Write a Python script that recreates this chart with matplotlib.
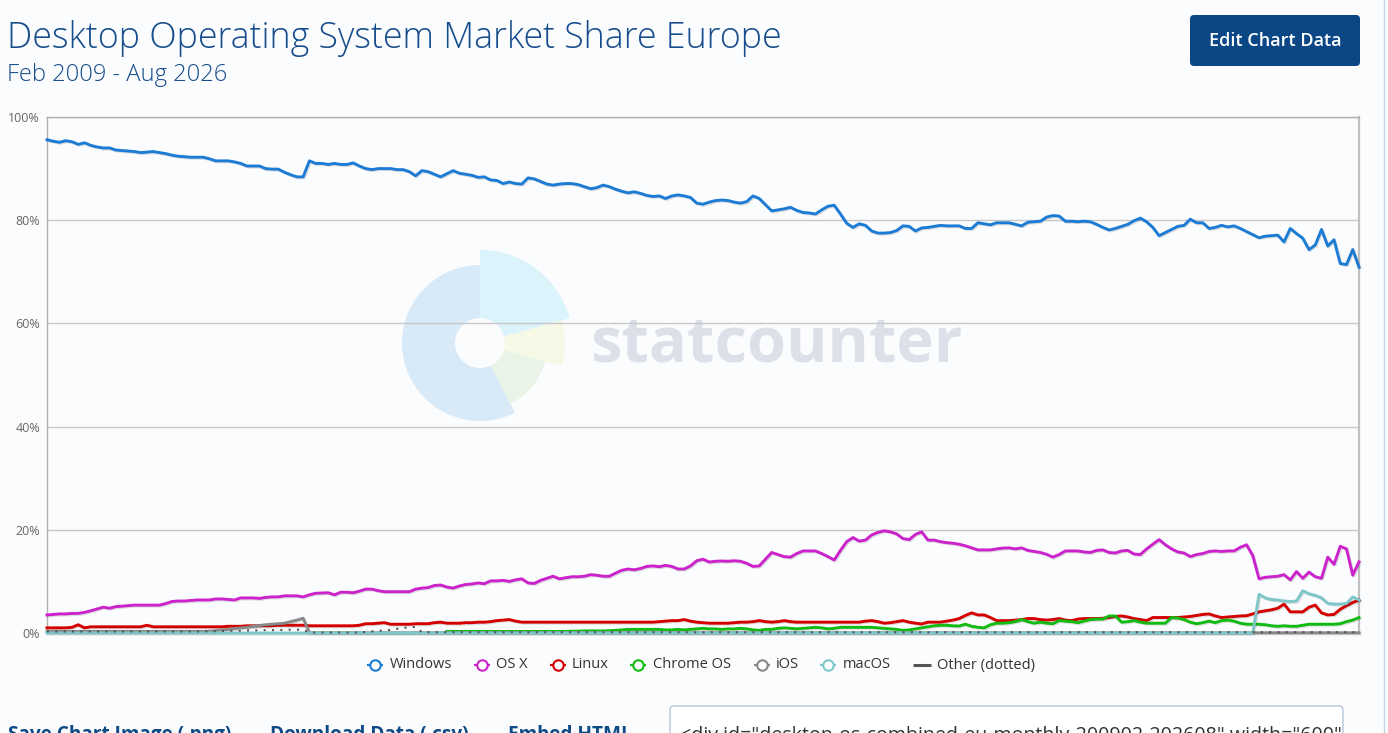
import numpy as np
import matplotlib
matplotlib.use("Agg")
import matplotlib.pyplot as plt
from matplotlib.patches import Wedge, FancyBboxPatch
import matplotlib.patheffects as pe

plt.rcParams['font.family'] = ['Open Sans', 'DejaVu Sans']

# ---------------- data (monthly, Feb 2009 .. Aug 2026) ----------------
title = "Desktop Operating System Market Share Europe"
subtitle = "Feb 2009 - Aug 2026"
series_names = ["Windows", "OS X", "Linux", "Chrome OS", "iOS", "macOS", "Other (dotted)"]
y_ticks = [0, 20, 40, 60, 80, 100]
y_tick_labels = ["0%", "20%", "40%", "60%", "80%", "100%"]

windows = [
    95.6, 95.3, 95.1, 95.4, 95.2, 94.7, 95.0, 94.5, 94.2, 94.0,
    94.0, 93.6, 93.5, 93.4, 93.3, 93.1, 93.2, 93.3, 93.1, 92.9,
    92.6, 92.4, 92.3, 92.2, 92.2, 92.2, 91.9, 91.5, 91.5, 91.5,
    91.3, 91.0, 90.5, 90.5, 90.5, 90.0, 89.9, 89.9, 89.3, 88.8,
    88.4, 88.4, 91.5, 91.0, 91.0, 90.8, 91.0, 90.8, 90.8, 91.1,
    90.5, 90.0, 89.8, 90.0, 90.0, 90.0, 89.8, 89.8, 89.4, 88.6,
    89.6, 89.4, 88.9, 88.4, 89.0, 89.6, 89.1, 88.9, 88.7, 88.3,
    88.4, 87.8, 87.7, 87.1, 87.4, 87.1, 87.0, 88.2, 88.0, 87.5,
    87.0, 86.8, 87.0, 87.1, 87.1, 86.9, 86.5, 86.1, 86.3, 86.8,
    86.5, 86.0, 85.6, 85.3, 85.5, 85.2, 84.8, 84.6, 84.7, 84.2,
    84.7, 84.9, 84.7, 84.4, 83.3, 83.1, 83.5, 83.8, 83.9, 83.8,
    83.5, 83.3, 83.6, 84.7, 84.2, 83.0, 81.8, 82.0, 82.2, 82.5,
    81.9, 81.5, 81.4, 81.2, 82.0, 82.7, 82.9, 81.2, 79.4, 78.6,
    79.3, 79.0, 77.9, 77.5, 77.5, 77.6, 78.0, 78.9, 78.8, 77.9,
    78.5, 78.6, 78.8, 79.0, 78.9, 78.9, 78.9, 78.4, 78.4, 79.5,
    79.3, 79.1, 79.5, 79.5, 79.5, 79.2, 78.9, 79.6, 79.7, 79.8,
    80.6, 80.9, 80.8, 79.8, 79.8, 79.7, 79.8, 79.7, 79.2, 78.6,
    78.1, 78.4, 78.8, 79.2, 79.9, 80.4, 79.7, 78.6, 77.0, 77.6,
    78.2, 78.8, 79.0, 80.2, 79.5, 79.5, 78.4, 78.6, 79.0, 78.7,
    78.9, 78.4, 77.8, 77.2, 76.6, 76.9, 77.0, 77.1, 75.8, 78.4,
    77.4, 76.5, 74.3, 75.2, 78.2, 75.0, 76.2, 71.6, 71.4, 74.3, 70.9,
]

osx = [
    3.5, 3.6, 3.7, 3.7, 3.8, 3.8, 4.0, 4.3, 4.65, 5.0,
    4.8, 5.1, 5.2, 5.3, 5.4, 5.4, 5.4, 5.4, 5.4, 5.7,
    6.1, 6.2, 6.2, 6.3, 6.4, 6.4, 6.4, 6.6, 6.6, 6.5,
    6.4, 6.8, 6.8, 6.8, 6.7, 6.9, 7.0, 7.0, 7.2, 7.2,
    7.2, 7.0, 7.4, 7.7, 7.75, 7.8, 7.4, 7.9, 7.9, 7.8,
    8.1, 8.5, 8.5, 8.2, 8.0, 8.0, 8.0, 8.0, 8.0, 8.5,
    8.7, 8.8, 9.2, 9.3, 8.9, 8.7, 9.1, 9.4, 9.5, 9.7,
    9.55, 10.1, 10.1, 10.2, 10.0, 10.3, 10.5, 9.7, 9.6, 10.2,
    10.6, 11.0, 10.5, 10.7, 10.9, 10.9, 11.0, 11.3, 11.2, 11.0,
    11.0, 11.6, 12.15, 12.4, 12.25, 12.5, 12.9, 13.0, 12.85, 13.1,
    12.9, 12.4, 12.4, 13.0, 14.0, 14.3, 13.75, 13.9, 13.95, 13.9,
    14.0, 13.9, 13.5, 12.9, 13.0, 14.3, 15.6, 15.2, 14.8, 14.7,
    15.4, 15.9, 15.9, 15.9, 15.4, 14.8, 14.15, 16.0, 17.7, 18.5,
    17.8, 18.0, 19.0, 19.5, 19.8, 19.6, 19.2, 18.3, 18.1, 19.1,
    19.6, 18.0, 18.0, 17.7, 17.5, 17.4, 17.2, 16.9, 16.5, 16.1,
    16.1, 16.1, 16.3, 16.45, 16.5, 16.3, 16.5, 16.0, 15.8, 15.6,
    15.25, 14.7, 15.2, 15.9, 15.9, 15.9, 15.7, 15.6, 16.0, 16.1,
    15.6, 15.5, 15.9, 16.0, 15.3, 15.2, 16.3, 17.2, 18.1, 17.1,
    16.3, 15.7, 15.5, 14.8, 15.2, 15.4, 15.8, 15.9, 15.8, 15.9,
    15.9, 16.6, 17.1, 15.0, 10.5, 10.8, 10.9, 11.0, 11.3, 10.3,
    11.9, 10.6, 11.8, 10.9, 10.6, 14.7, 13.3, 16.8, 16.3, 11.2, 13.8,
]

linux = [
    1.0, 1.0, 1.0, 1.0, 1.1, 1.6, 1.0, 1.2, 1.2, 1.2,
    1.2, 1.2, 1.2, 1.2, 1.2, 1.2, 1.5, 1.2, 1.2, 1.2,
    1.2, 1.2, 1.2, 1.2, 1.2, 1.2, 1.2, 1.2, 1.2, 1.3,
    1.3, 1.3, 1.4, 1.4, 1.4, 1.4, 1.4, 1.5, 1.5, 1.5,
    1.5, 1.5, 1.4, 1.4, 1.4, 1.4, 1.4, 1.4, 1.4, 1.4,
    1.5, 1.8, 1.8, 1.9, 2.0, 1.7, 1.7, 1.7, 1.7, 1.8,
    1.8, 1.8, 2.0, 2.1, 1.9, 1.9, 1.9, 2.0, 2.0, 2.1,
    2.1, 2.2, 2.4, 2.5, 2.6, 2.3, 2.1, 2.1, 2.1, 2.1,
    2.1, 2.1, 2.1, 2.1, 2.1, 2.1, 2.1, 2.1, 2.1, 2.1,
    2.1, 2.1, 2.1, 2.1, 2.1, 2.1, 2.1, 2.1, 2.2, 2.3,
    2.4, 2.4, 2.6, 2.3, 2.1, 2.0, 1.9, 1.9, 1.9, 1.9,
    2.0, 2.1, 2.1, 2.2, 2.4, 2.2, 2.1, 2.2, 2.4, 2.2,
    2.1, 2.1, 2.1, 2.1, 2.1, 2.1, 2.1, 2.1, 2.1, 2.1,
    2.1, 2.3, 2.4, 2.2, 1.9, 2.0, 2.2, 2.4, 2.1, 1.9,
    1.75, 2.1, 2.1, 2.1, 2.3, 2.5, 2.8, 3.4, 3.9, 3.5,
    3.5, 3.0, 2.4, 2.4, 2.4, 2.5, 2.6, 2.8, 2.8, 2.6,
    2.5, 2.6, 2.8, 2.5, 2.4, 2.7, 2.8, 2.8, 2.8, 2.85,
    3.0, 3.2, 3.3, 3.1, 2.8, 2.6, 2.4, 3.0, 3.0, 3.0,
    3.0, 3.0, 3.1, 3.2, 3.4, 3.6, 3.7, 3.3, 3.0, 3.1,
    3.2, 3.3, 3.35, 3.7, 4.1, 4.3, 4.5, 4.8, 5.6, 4.1,
    4.1, 4.1, 5.0, 5.4, 3.9, 3.5, 3.6, 4.6, 5.3, 5.9, 6.4,
]

chromeos = [np.nan] * 64 + [
    0.3, 0.3, 0.3, 0.3, 0.3, 0.3,
    0.3, 0.3, 0.3, 0.3, 0.3, 0.3, 0.3, 0.3, 0.3, 0.3,
    0.3, 0.3, 0.3, 0.3, 0.35, 0.35, 0.4, 0.4, 0.4, 0.4,
    0.45, 0.5, 0.6, 0.7, 0.7, 0.7, 0.7, 0.7, 0.7, 0.6,
    0.6, 0.7, 0.6, 0.7, 0.8, 0.9, 0.8, 0.8, 0.7, 0.8,
    0.8, 0.9, 0.8, 0.6, 0.5, 0.7, 0.7, 0.9, 1.0, 0.9,
    0.8, 0.9, 1.0, 1.1, 1.0, 0.8, 0.9, 1.1, 1.1, 1.1,
    1.1, 1.1, 1.1, 1.0, 0.9, 0.8, 0.7, 0.5, 0.6, 0.8,
    1.0, 1.2, 1.4, 1.5, 1.5, 1.4, 1.35, 1.7, 1.3, 1.1,
    1.0, 1.6, 1.9, 1.9, 2.0, 2.2, 2.6, 2.2, 1.9, 2.1,
    1.9, 1.8, 2.4, 2.3, 2.2, 2.0, 2.3, 2.6, 2.7, 2.7,
    3.3, 3.3, 2.1, 2.2, 2.4, 2.1, 1.9, 1.9, 1.9, 1.9,
    3.0, 2.9, 2.6, 2.1, 1.8, 2.0, 2.3, 2.0, 2.4, 2.5,
    2.3, 1.9, 1.7, 1.7, 1.7, 1.6, 1.4, 1.3, 1.4, 1.3,
    1.3, 1.5, 1.7, 1.7, 1.7, 1.7, 1.7, 1.8, 2.2, 2.5, 3.0,
]

ios = [0.3] * 26 + [
    0.35, 0.45, 0.6, 0.7, 0.85, 1.0, 1.1, 1.3, 1.45, 1.6,
    1.7, 1.8, 1.9, 2.2, 2.5, 2.85,
] + [0.05] * 169

macos = [0.0] * 194 + [
    7.5, 6.8, 6.5, 6.4, 6.2, 6.1, 6.2, 8.2, 7.6, 7.3,
    6.8, 5.75, 5.6, 5.6, 5.7, 7.0, 6.4,
]

other = [0.3] * 26 + [
    0.35, 0.35, 0.4, 0.4, 0.45, 0.45, 0.5, 0.5, 0.5, 0.55,
    0.55, 0.6, 0.6, 0.65, 0.65, 0.6,
] + [0.1] * 9 + [0.2, 0.3, 0.4, 0.5, 0.6, 0.8, 1.0, 1.1, 1.2] + [0.15] * 151

series = [windows, osx, linux, chromeos, ios, macos, other]
colors = ["#1c7cd5", "#cc22cc", "#d40000", "#11bb11", "#888888", "#7fc6c9", "#555555"]

# ---------------- figure ----------------
W, H = 1388, 733
fig = plt.figure(figsize=(W / 100, H / 100), dpi=100)
fig.patch.set_facecolor("#fbfcfd")

# background (pixel coordinate) layer
bg = fig.add_axes([0, 0, 1, 1], zorder=0)
bg.set_xlim(0, W)
bg.set_ylim(H, 0)
bg.axis("off")

# statcounter watermark logo (screen angles mirrored because y inverted)
cx, cy = 480, 343
bg.add_patch(Wedge((cx, cy), 78, 63.4, 270, width=53, color="#d8e9f7", lw=0))
bg.add_patch(Wedge((cx, cy), 93, -90, -15.4, width=68, color="#dbf3fb", lw=0))
bg.add_patch(Wedge((cx, cy), 85, -15.4, 16, width=60, color="#f6f9e6", lw=0))
bg.add_patch(Wedge((cx, cy), 68, 16, 63.4, width=43, color="#e9f4e7", lw=0))

def fit_text(t, target_w):
    fig.canvas.draw()
    bb = t.get_window_extent()
    t.set_fontsize(t.get_fontsize() * target_w / bb.width)

wm = bg.text(590, 362, "statcounter", fontsize=46, weight="bold", color="#dbe0e9",
             ha="left", va="baseline")
fit_text(wm, 372)

# title
tt = bg.text(7, 48, title, fontsize=26, weight="light", color="#174d8c",
             ha="left", va="baseline")
fit_text(tt, 778)
st = bg.text(7, 81, subtitle, fontsize=16, weight="light", color="#174d8c",
             ha="left", va="baseline")
fit_text(st, 221)

# button
bg.add_patch(FancyBboxPatch((1190, 15), 170, 51, boxstyle="round,pad=0,rounding_size=4",
                            fc="#0c4785", ec="none"))
bg.text(1275, 41, "Edit Chart Data", fontsize=13, weight="semibold", color="white",
        ha="center", va="center")

# bottom links (cut off by figure edge, as in reference)
link_c = "#0e4a86"
bg.text(8, 740, "Save Chart Image (.png)", fontsize=13.7, weight="bold", color=link_c,
        ha="left", va="baseline")
bg.text(270, 740, "Download Data (.csv)", fontsize=13.7, weight="bold", color=link_c,
        ha="left", va="baseline")
bg.text(508, 740, "Embed HTML", fontsize=13.7, weight="bold", color=link_c,
        ha="left", va="baseline")
bg.add_patch(FancyBboxPatch((670, 706), 673, 60, boxstyle="round,pad=0,rounding_size=4",
                            fc="white", ec="#b3c6dd", lw=1))
bg.text(680, 741, '<div id="desktop-os-combined-eu-monthly-200902-202608" width="600"',
        fontsize=14.1, color="#333333", ha="left", va="baseline", clip_on=True)
bg.plot([1384, 1384], [0, H], color="#c3d3e8", lw=1)

# legend (manual, pixel coordinates)
leg_y = 665
leg_items = [(375, 390), (482, 496), (558, 572), (638, 653), (762, 776), (828, 843)]
for (mx, tx), name, c in zip(leg_items, series_names[:6], colors[:6]):
    bg.plot([mx - 8, mx + 8], [leg_y, leg_y], color=c, lw=1.6, solid_capstyle="butt")
    bg.plot([mx], [leg_y], "o", ms=7.5, mfc="white", mec=c, mew=1.5)
    bg.text(tx, leg_y, name, fontsize=10.5, color="#333333", ha="left", va="center")
bg.plot([913, 931], [leg_y, leg_y], color="#555555", lw=2.2, solid_capstyle="butt")
bg.text(937, leg_y, series_names[6], fontsize=10.5, color="#333333", ha="left", va="center")

# ---------------- main chart ----------------
L, R, T, B = 47, 1359, 117, 633
ax = fig.add_axes([L / W, (H - B) / H, (R - L) / W, (B - T) / H], zorder=1)
ax.set_facecolor("none")
x = np.arange(len(windows))
ax.set_xlim(0, len(windows) - 1)
ax.set_ylim(0, 100)

shadow = [pe.SimpleLineShadow(offset=(0.8, -0.8), shadow_color="black", alpha=0.12),
          pe.Normal()]
for i, (vals, c) in enumerate(zip(series, colors)):
    vals = np.array(vals, dtype=float)
    if i == 6:
        ax.plot(x, vals, color=c, lw=1.5, linestyle=(0, (1, 3.0)), zorder=3 + i,
                clip_on=False)
    else:
        ax.plot(x, vals, color=c, lw=2.1, zorder=3 + i, clip_on=False,
                solid_joinstyle="round", path_effects=shadow)

ax.set_yticks(y_ticks)
ax.set_yticklabels(y_tick_labels)
ax.tick_params(axis="y", length=0, pad=5, labelsize=9, labelcolor="#666666")
ax.set_xticks([])
ax.grid(axis="y", color="#c8c8c8", lw=1)
ax.set_axisbelow(True)
for s in ["left", "top", "bottom"]:
    ax.spines[s].set_color("#b0b0b0")
    ax.spines[s].set_linewidth(1)
ax.spines["right"].set_color("#c0c0c0")
ax.spines["right"].set_linewidth(1.6)

fig.savefig("out.png", dpi=100, facecolor=fig.get_facecolor())
